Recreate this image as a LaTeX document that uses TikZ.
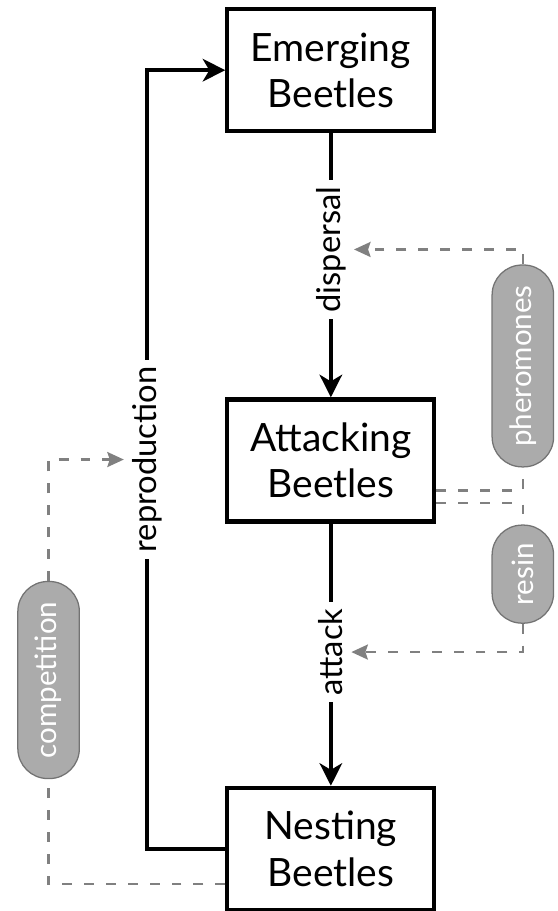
\documentclass[tikz,border=0pt]{standalone}
\usepackage{graphicx}
\usepackage{fontspec}
\setmainfont{Lato}
\usetikzlibrary{arrows.meta}

\begin{document}
\begin{tikzpicture}[
		stage/.style={draw=black, line width=4pt, minimum width=6.9cm, minimum height=4.07cm, align=center, font=\fontsize{37}{44}\selectfont},
		flow/.style={line width=3.8pt, -{Stealth[length=0.75cm, width=0.75cm, inset=0.22cm]}},
		vlabel/.style={fill=white, inner sep=6pt, font=\fontsize{31}{34}\selectfont},
		factor/.style={draw=black!55, fill=black!33, text=white, line width=1.2pt, rounded corners=1cm, minimum width=2.05cm, inner sep=2pt, font=\fontsize{28}{30}\selectfont},
		link/.style={draw=black!50, line width=2.2pt, dash pattern=on 0.33cm off 0.4cm},
		effect/.style={link, -{Stealth[length=0.55cm, width=0.5cm, inset=0.08cm]}}
		]
		
		\useasboundingbox (0,0) rectangle (18.6,30.37);
		
		% =========================================================
		% Beetle stages
		% =========================================================
		\node[stage] (emer) at (11.03,28.03) {Emerging\\Beetles};
		\node[stage] (att) at (11.03,15.02) {Attacking\\Beetles};
		\node[stage] (nest) at (11.03,2.07) {Nesting\\Beetles};
		
		% Outside factors
		\node[factor, minimum height=6.73cm] (phero) at (17.43,18.17) {\rotatebox{90}{pheromones}};
		\node[factor, minimum height=3.27cm] (resin) at (17.43,11.23) {\rotatebox{90}{resin}};
		\node[factor, minimum height=6.57cm] (comp) at (1.62,7.7) {\rotatebox{90}{competition}};
		
		% =========================================================
		% Life cycle
		% =========================================================
		\draw[flow] (emer) -- node[vlabel, pos=0.44] (disp) {\rotatebox{90}{dispersal}} (att);
		\draw[flow] (att) -- node[vlabel, pos=0.49] (atk) {\rotatebox{90}{attack}} (nest);
		
		% Loop back on the left
		\coordinate (loop) at (4.9,0);
		\draw[flow] (nest.west) -- (nest.west -| loop) -- node[vlabel] (repr) {\rotatebox{90}{reproduction}} (emer.west -| loop) -- (emer.west);
		
		% =========================================================
		% Influences (dashed)
		% =========================================================
		\draw[link] ([yshift=-1cm]att.east) -| (phero.south);
		\draw[link] ([yshift=-1.43cm]att.east) -| (resin.north);
		\draw[effect] (phero.north) |- (disp.east);
		\draw[effect] (resin.south) |- (atk.east);
		
		\draw[link] ([yshift=0.93cm]nest.south west) -| (comp.south);
		\draw[effect] (comp.north) |- (repr.west);
		
	\end{tikzpicture}
\end{document}
